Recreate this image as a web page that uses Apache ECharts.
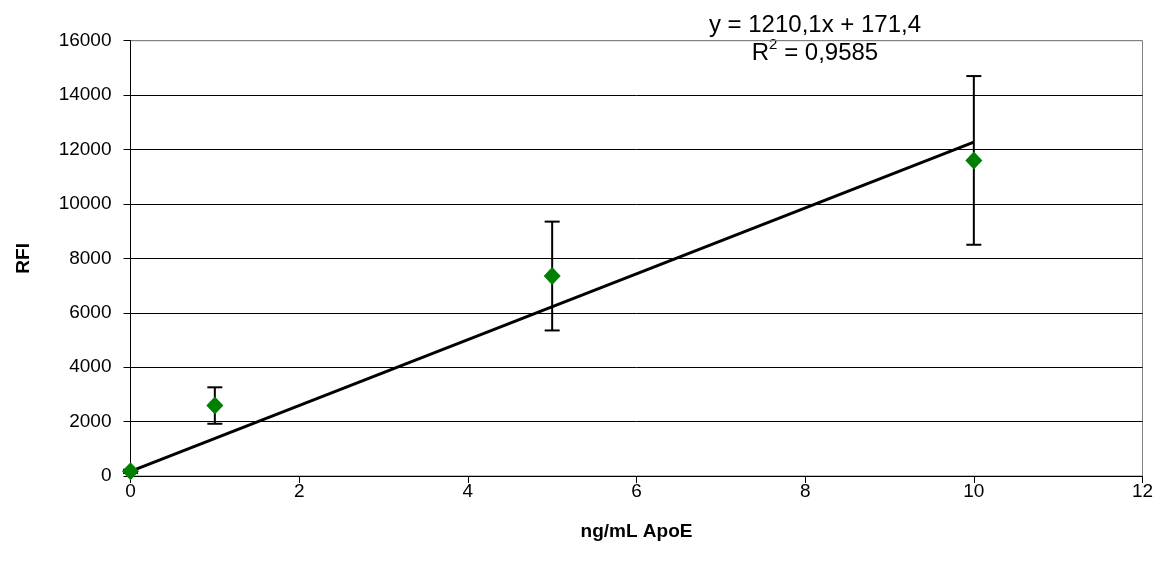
<!DOCTYPE html>
<html>
<head>
<meta charset="utf-8">
<script src="https://cdn.jsdelivr.net/npm/echarts@6/dist/echarts.min.js"></script>
<style>
  html, body { margin: 0; padding: 0; background: #fff; }
  #chart { width: 1159px; height: 567px; }
</style>
</head>
<body>
<div id="chart"></div>
<script>
// ApoE standard curve: concentration vs. relative fluorescence intensity
const concentrations = [0, 1, 5, 10];          // ng/mL ApoE
const rfiMeans = [170, 2590, 7350, 11600];     // mean RFI
const rfiErrors = [60, 670, 2000, 3100];       // ± error
const xTicks = [0, 2, 4, 6, 8, 10, 12];
const yTicks = [0, 2000, 4000, 6000, 8000, 10000, 12000, 14000, 16000];

// Linear trend line as reported
const slope = 1210.1;
const intercept = 171.4;
const rSquared = '0,9585';
const trendRange = [0, 10];

const font = 'Liberation Sans, Arial, sans-serif';

const chart = echarts.init(document.getElementById('chart'));

const points = concentrations.map((x, i) => [x, rfiMeans[i]]);
const bars = concentrations.map((x, i) => [x, rfiMeans[i] - rfiErrors[i], rfiMeans[i] + rfiErrors[i]]);
const trend = trendRange.map(x => [x, slope * x + intercept]);

const fmt = v => v.toString().replace('.', ',');

chart.setOption({
  animation: false,
  backgroundColor: '#fff',
  grid: {
    left: 130.5, right: 16.5, top: 40.7, bottom: 91,
    show: true, borderColor: '#808080', borderWidth: 1
  },
  xAxis: {
    type: 'value',
    min: xTicks[0], max: xTicks[xTicks.length - 1], interval: 2,
    name: 'ng/mL ApoE', nameLocation: 'middle', nameGap: 46,
    nameTextStyle: { fontFamily: font, fontSize: 19, fontWeight: 'bold', color: '#000' },
    axisLine: { lineStyle: { color: '#000', width: 1 } },
    axisTick: { show: true, inside: false, length: 7, lineStyle: { color: '#000' } },
    axisLabel: { fontFamily: font, fontSize: 19, color: '#000', margin: 6 },
    splitLine: { show: false }
  },
  yAxis: {
    type: 'value',
    min: yTicks[0], max: yTicks[yTicks.length - 1], interval: 2000,
    name: 'RFI', nameLocation: 'middle', nameGap: 97, nameRotate: 90,
    nameTextStyle: { fontFamily: font, fontSize: 19, fontWeight: 'bold', color: '#000' },
    axisLine: { show: true, lineStyle: { color: '#000', width: 1 } },
    axisTick: { show: true, inside: false, length: 7, lineStyle: { color: '#000' } },
    axisLabel: { fontFamily: font, fontSize: 19, color: '#000', margin: 19, formatter: v => String(v) },
    splitLine: {
      show: true,
      lineStyle: { color: ['#000', '#000', '#000', '#000', '#000', '#000', '#000', '#000', '#808080'], width: 1 }
    }
  },
  series: [
    {
      type: 'line',
      data: trend,
      symbol: 'none',
      lineStyle: { color: '#000', width: 3 },
      z: 3
    },
    {
      type: 'custom',
      data: bars,
      renderItem: (params, api) => {
        const x = api.value(0);
        const lo = api.coord([x, api.value(1)]);
        const hi = api.coord([x, api.value(2)]);
        const cap = 15;
        const style = { stroke: '#000', lineWidth: 2 };
        return {
          type: 'group',
          children: [
            { type: 'line', shape: { x1: lo[0], y1: lo[1], x2: hi[0], y2: hi[1] }, style },
            { type: 'line', shape: { x1: hi[0] - cap / 2, y1: hi[1], x2: hi[0] + cap / 2, y2: hi[1] }, style },
            { type: 'line', shape: { x1: lo[0] - cap / 2, y1: lo[1], x2: lo[0] + cap / 2, y2: lo[1] }, style }
          ]
        };
      },
      z: 4
    },
    {
      type: 'scatter',
      data: points,
      symbol: 'diamond',
      symbolSize: [17, 18],
      itemStyle: { color: '#008000', opacity: 1 },
      z: 5
    }
  ],
  graphic: [
    {
      type: 'text',
      x: 815, y: 13,
      style: {
        text: 'y = ' + fmt(slope) + 'x + ' + fmt(intercept),
        font: '24px ' + font, fill: '#000', align: 'center'
      }
    },
    {
      type: 'text',
      x: 815, y: 37,
      style: {
        text: '{b|R}{s|2}{b| = ' + rSquared + '}',
        align: 'center',
        rich: {
          b: { font: '24px ' + font, fill: '#000', verticalAlign: 'bottom', lineHeight: 28 },
          s: { font: '15px ' + font, fill: '#000', verticalAlign: 'top', lineHeight: 28 }
        }
      }
    }
  ]
});
</script>
</body>
</html>
